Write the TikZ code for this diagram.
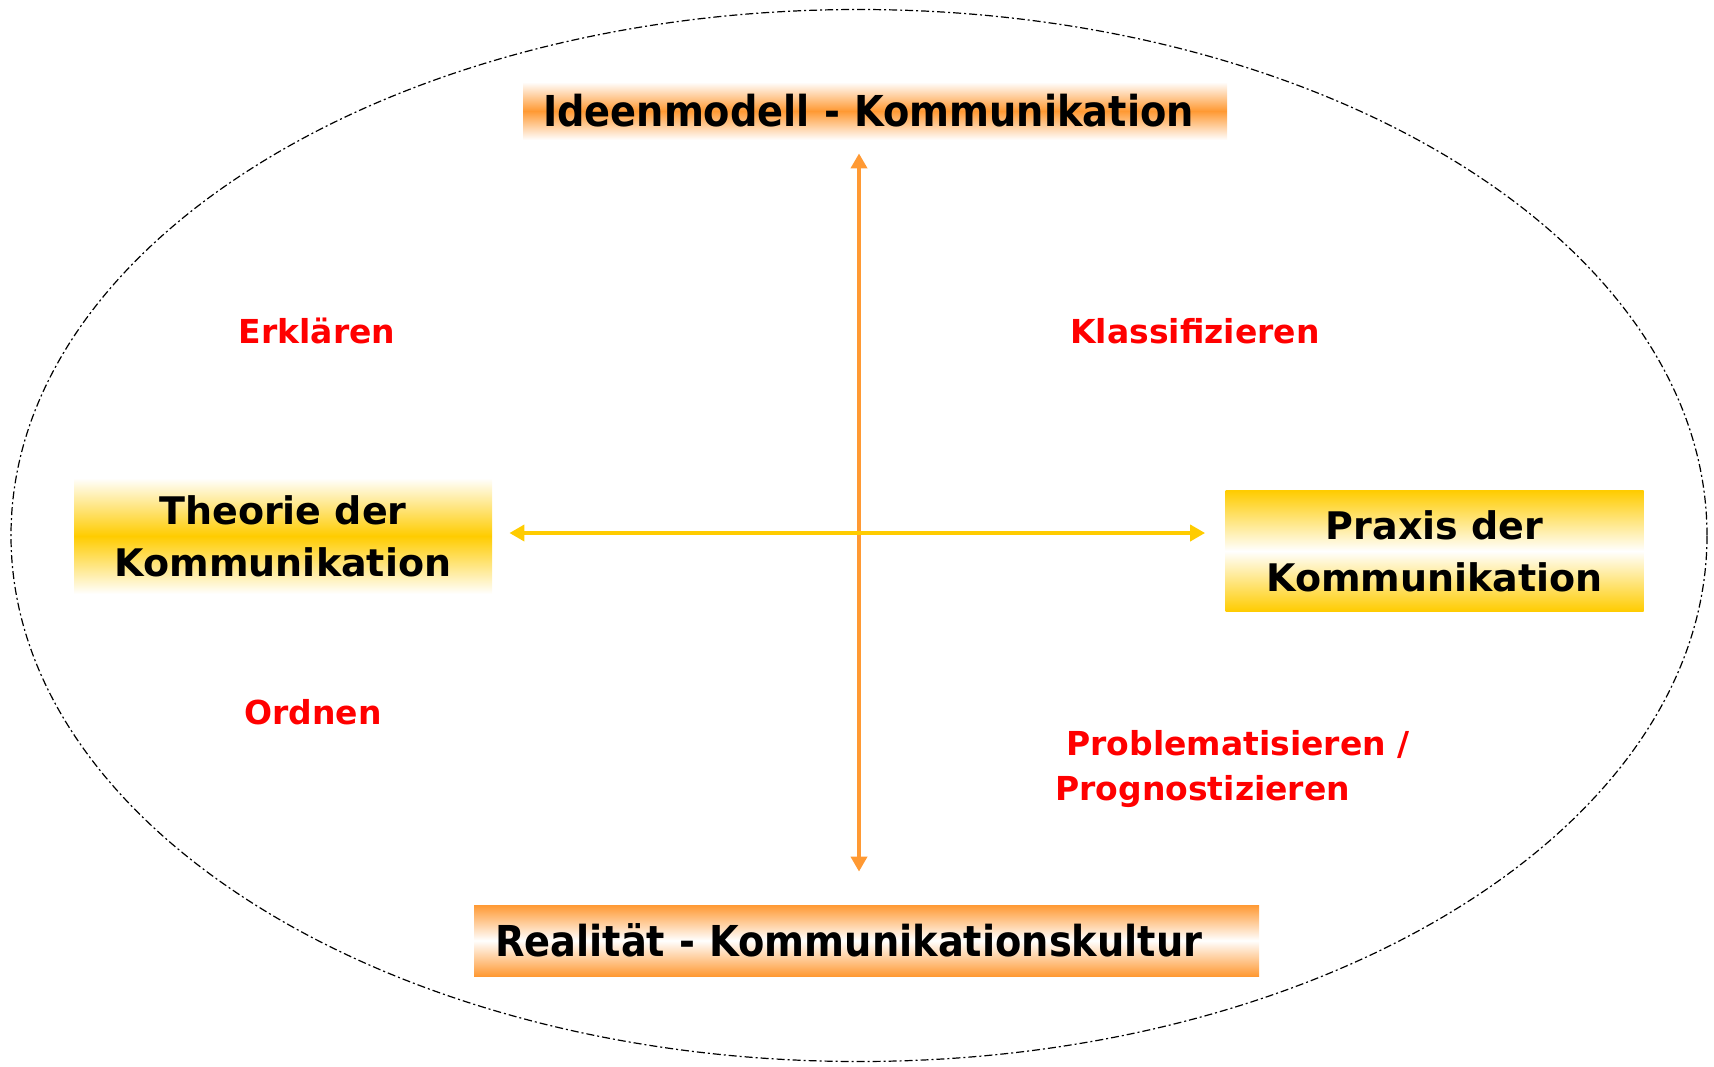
\documentclass[tikz,border=0pt]{standalone}
\usepackage{fontspec}
\setmainfont{DejaVu Sans}
\newfontfamily\schmalfont[FakeStretch=0.9]{DejaVu Sans}
\usetikzlibrary{arrows.meta}
\definecolor{kOrange}{HTML}{FF9933}
\definecolor{kGelb}{HTML}{FFCC00}
\begin{document}
\begin{tikzpicture}[x=0.5pt,y=-0.5pt,
        titel/.style={inner sep=0pt,align=left,font=\schmalfont\bfseries\fontsize{21.3}{25}\selectfont},
        seite/.style={inner sep=0pt,align=center,minimum width=209pt,
            font=\bfseries\fontsize{19}{26}\selectfont},
        verb/.style={text=red,align=left,inner sep=0pt,
            font=\bfseries\fontsize{16.5}{22.5}\selectfont},
        pfeil/.style={line width=2pt,{Triangle[width=8pt,length=7.5pt]}-{Triangle[width=8pt,length=7.5pt]}}]
\useasboundingbox (0,0) rectangle (1714,1066);

\draw[line width=0.6pt,dash pattern=on 4pt off 1.5pt on 1pt off 1.5pt]
    (859,535.5) ellipse [x radius=424pt, y radius=263pt];

% die vier Pole
\node[titel, minimum width=352pt, minimum height=29pt, inner xsep=10pt,
    text width=332pt,
    top color=white, bottom color=white, middle color=kOrange]
    (ideen) at (875,111) {Ideenmodell - Kommunikation};
\node[titel, minimum width=392.5pt, minimum height=35.5pt, inner xsep=10.5pt,
    text width=371.5pt,
    top color=kOrange, bottom color=kOrange, middle color=white]
    (real) at (866.5,940.5) {Realität - Kommunikationskultur};
\node[seite, minimum height=58pt,
    top color=white, bottom color=white, middle color=kGelb]
    (theorie) at (283,536) {Theorie der\\Kommunikation};
\node[seite, minimum height=60.5pt,
    top color=kGelb, bottom color=kGelb, middle color=white]
    (praxis) at (1434.5,551) {Praxis der\\Kommunikation};

\coordinate (mitte) at (859,533);

% Achsen
\draw[pfeil, kOrange, shorten <=6.5pt, shorten >=16.5pt]
    (mitte |- ideen.south) -- (mitte |- real.north);
\draw[pfeil, kGelb, shorten <=8.5pt, shorten >=10pt]
    (theorie.east |- mitte) -- (praxis.west |- mitte);

% Taetigkeiten
\node[verb] (erkl) at (317,331) {Erklären};
\node[verb] (klass) at (1195,331) {Klassifizieren};
\node[verb] (ordn) at (313,712) {Ordnen};
\node[verb, anchor=west] (probl) at (1055,769)
    {\hspace{5.5pt}Problematisieren /\\Prognostizieren};
\end{tikzpicture}
\end{document}
